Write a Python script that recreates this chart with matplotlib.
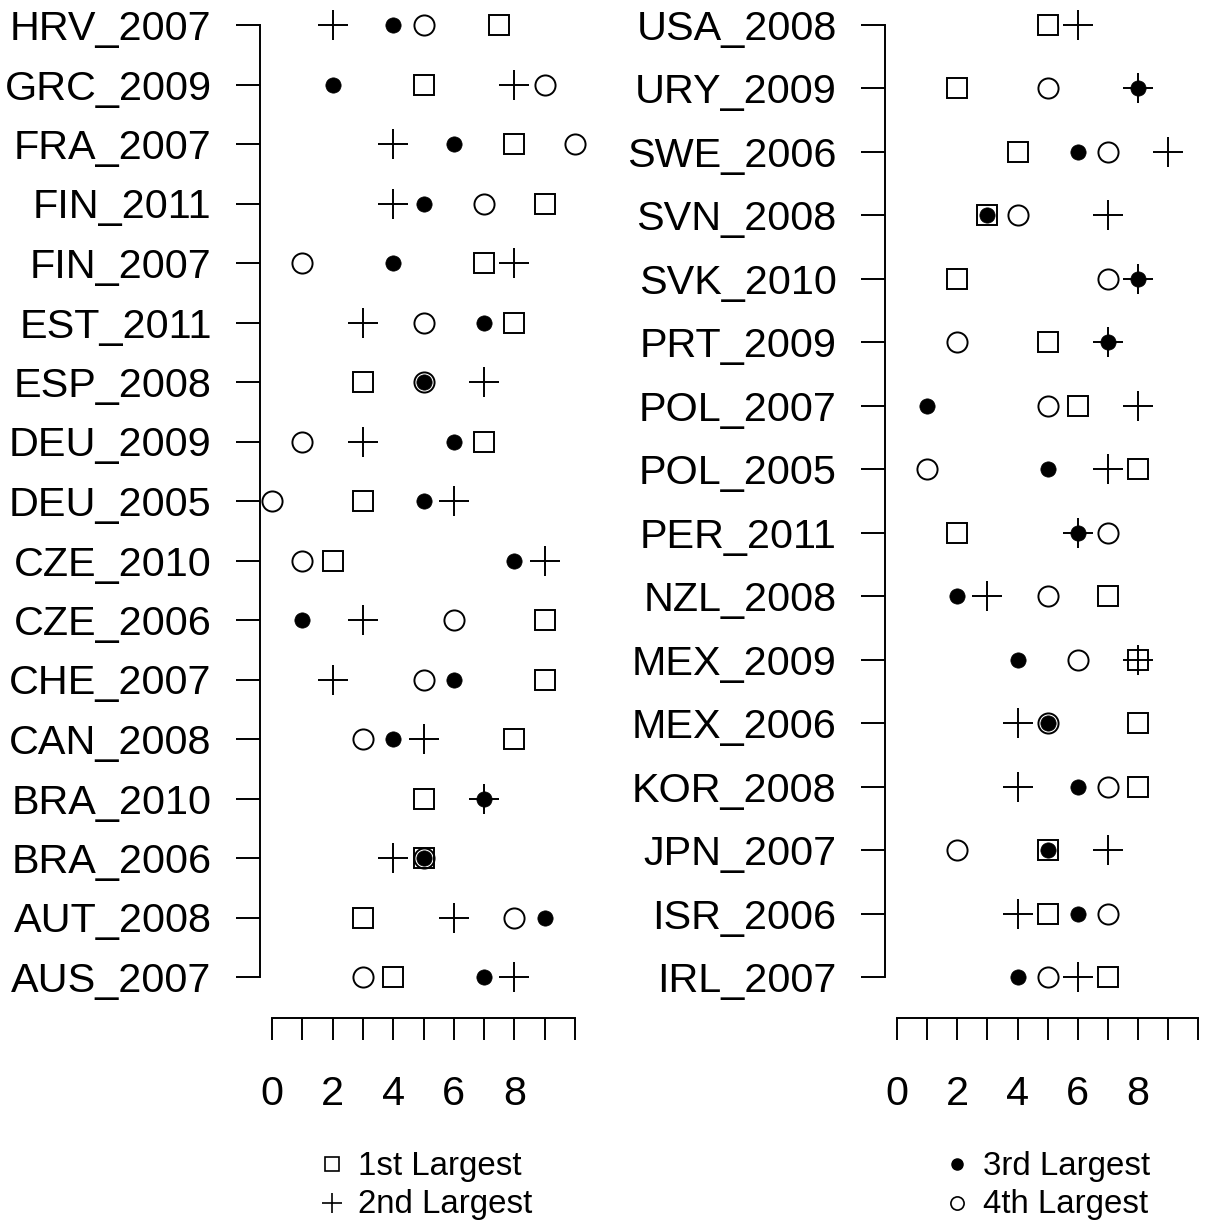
import numpy as np
import matplotlib
matplotlib.use('Agg')
import matplotlib.pyplot as plt
from matplotlib.lines import Line2D

plt.rcParams['font.family'] = ['Liberation Sans', 'DejaVu Sans']

nan = np.nan

# left panel, listed top to bottom
left_labels = ['HRV_2007', 'GRC_2009', 'FRA_2007', 'FIN_2011', 'FIN_2007', 'EST_2011',
               'ESP_2008', 'DEU_2009', 'DEU_2005', 'CZE_2010', 'CZE_2006', 'CHE_2007',
               'CAN_2008', 'BRA_2010', 'BRA_2006', 'AUT_2008', 'AUS_2007']
left_first = [7.5, 5, 8, 9, 7, 8, 3, 7, 3, 2, 9, 9, 8, 5, 5, 3, 4]
left_second = [2, 8, 4, 4, 8, 3, 7, 3, 6, 9, 3, 2, 5, 7, 4, 6, 8]
left_third = [4, 2, 6, 5, 4, 7, 5, 6, 5, 8, 1, 6, 4, 7, 5, 9, 7]
left_fourth = [5, 9, 10, 7, 1, 5, 5, 1, 0, 1, 6, 5, 3, nan, 5, 8, 3]

# right panel, listed top to bottom
right_labels = ['USA_2008', 'URY_2009', 'SWE_2006', 'SVN_2008', 'SVK_2010', 'PRT_2009',
                'POL_2007', 'POL_2005', 'PER_2011', 'NZL_2008', 'MEX_2009', 'MEX_2006',
                'KOR_2008', 'JPN_2007', 'ISR_2006', 'IRL_2007']
right_first = [5, 2, 4, 3, 2, 5, 6, 8, 2, 7, 8, 8, 8, 5, 5, 7]
right_second = [6, 8, 9, 7, 8, 7, 8, 7, 6, 3, 8, 4, 4, 7, 4, 6]
right_third = [nan, 8, 6, 3, 8, 7, 1, 5, 6, 2, 4, 5, 6, 5, 6, 4]
right_fourth = [nan, 5, 7, 4, 7, 2, 5, 1, 7, 5, 6, 5, 7, 2, 7, 5]

W, H = 1207, 1224
fig = plt.figure(figsize=(W / 100, H / 100), dpi=100)

FS = 29.8
LW = 1.4


def panel(left_px, zero_px, unit_px, right_px, labels, s1, s2, s3, s4):
    n = len(labels)
    top_row_px, bot_row_px = 25, 977
    row_px = (bot_row_px - top_row_px) / (n - 1)
    bottom_px = 1018
    ax = fig.add_axes([left_px / W, 1 - bottom_px / H,
                       (right_px - left_px) / W, bottom_px / H])
    y = np.arange(n, 0, -1)
    ax.set_xlim((left_px - zero_px) / unit_px, (right_px - zero_px) / unit_px)
    ax.set_ylim(1 - (bottom_px - bot_row_px) / row_px, n + top_row_px / row_px)
    ax.plot(s1, y, ls='none', marker='s', ms=14.5, mfc='white', mec='black', mew=LW, clip_on=False)
    ax.plot(s2, y, ls='none', marker='+', ms=21, mec='black', mew=LW, clip_on=False)
    ax.plot(s3, y, ls='none', marker='o', ms=11, mfc='black', mec='black', mew=0.5, clip_on=False)
    ax.plot(s4, y, ls='none', marker='o', ms=14.5, mfc='none', mec='black', mew=LW, clip_on=False)

    for s in ['top', 'right']:
        ax.spines[s].set_visible(False)
    ax.spines['left'].set_bounds(1, n)
    ax.spines['bottom'].set_bounds(0, 10)
    ax.spines['left'].set_linewidth(LW)
    ax.spines['bottom'].set_linewidth(LW)
    ax.set_yticks(y)
    ax.set_yticklabels(labels, fontsize=FS)
    ax.set_xticks(np.arange(0, 11))
    ax.set_xticklabels(['0', '', '2', '', '4', '', '6', '', '8', '', ''], fontsize=FS)
    ax.tick_params(axis='y', direction='out', length=17.3, width=LW, pad=17.5)
    ax.tick_params(axis='x', direction='out', length=16, width=LW, pad=25)
    ax.patch.set_visible(False)
    return ax


panel(260, 272, 30.3, 587, left_labels, left_first, left_second, left_third, left_fourth)
panel(885, 897, 30.125, 1207, right_labels, right_first, right_second, right_third, right_fourth)


def legend_item(mx, ty, marker, text, **kw):
    fig.add_artist(Line2D([mx / W], [1 - ty / H], transform=fig.transFigure,
                          ls='none', marker=marker, color='black', **kw))
    fig.text((mx + 26) / W, 1 - (ty + 2) / H, text, fontsize=23.8, va='center', ha='left')


legend_item(332, 1164, 's', '1st Largest', ms=9.5, mfc='white', mew=1.2)
legend_item(332, 1203, '+', '2nd Largest', ms=14, mew=1.2)
legend_item(957, 1164, 'o', '3rd Largest', ms=8, mfc='black')
legend_item(957, 1203, 'o', '4th Largest', ms=9.5, mfc='white', mew=1.2)

fig.savefig('out.png', dpi=100)
